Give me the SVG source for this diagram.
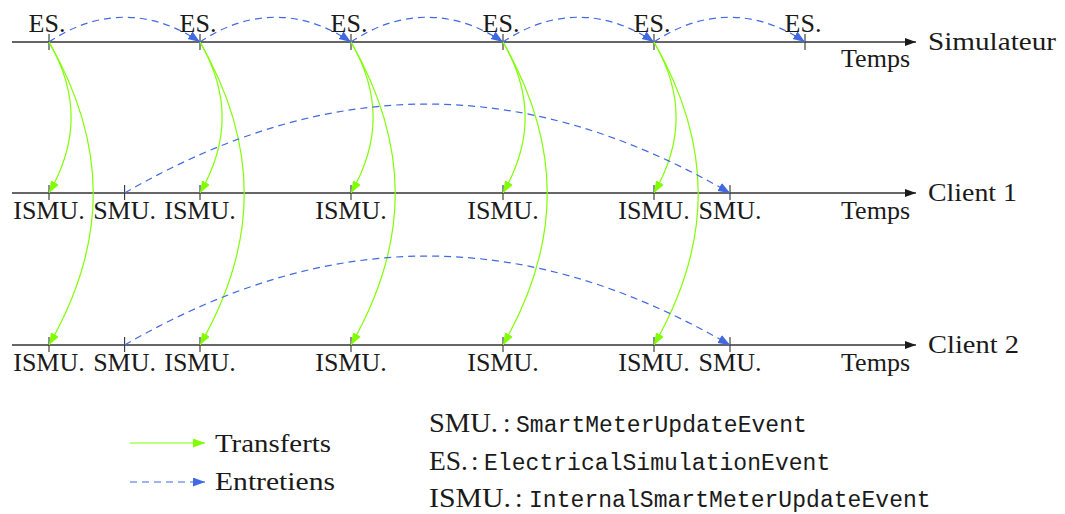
<svg xmlns="http://www.w3.org/2000/svg" width="1065" height="514" viewBox="0 0 1065 514">
<style>
.t{font-family:"Liberation Serif","Times New Roman",serif;font-size:26px;fill:#1a1a1a}
.l{font-size:27px}
.m{font-family:"Liberation Mono","DejaVu Sans Mono",monospace;font-size:23px;letter-spacing:0.05px;fill:#1a1a1a}
.mid{text-anchor:middle}
.end{text-anchor:end}
.axis{stroke:#333;stroke-width:1.4;fill:none}
.tick{stroke:#333;stroke-width:1.1}
.g{stroke:#7fff00;stroke-width:1.2;fill:none;marker-end:url(#ga)}
.b{stroke:#4169e1;stroke-width:1.2;fill:none;stroke-dasharray:7 5;marker-end:url(#ba)}
</style>
<defs>
<marker id="ga" markerUnits="userSpaceOnUse" markerWidth="14" markerHeight="12" refX="12" refY="4.5" orient="auto"><path d="M0,0 L12,4.5 L0,9 z" fill="#7fff00"/></marker>
<marker id="ba" markerUnits="userSpaceOnUse" markerWidth="14" markerHeight="12" refX="12" refY="4.5" orient="auto"><path d="M0,0 L12,4.5 L0,9 z" fill="#4169e1"/></marker>
<marker id="ka" markerUnits="userSpaceOnUse" markerWidth="14" markerHeight="12" refX="11" refY="4" orient="auto"><path d="M0,0 L11,4 L0,8 z" fill="#1a1a1a"/></marker>
</defs>

<g id="timeline-simulateur">
<path class="axis" d="M12,42 L916,42" marker-end="url(#ka)"/>
<path class="tick" d="M49,34 V50 M200,34 V50 M351,34 V50 M503,34 V50 M654,34 V50 M805,34 V50"/>
<text class="t mid" x="47" y="32">ES.</text>
<text class="t mid" x="198" y="32">ES.</text>
<text class="t mid" x="349" y="32">ES.</text>
<text class="t mid" x="501" y="32">ES.</text>
<text class="t mid" x="652" y="32">ES.</text>
<text class="t mid" x="803" y="32">ES.</text>
<text class="t end" x="910" y="67">Temps</text>
<text class="t" x="928" y="50" textLength="128" lengthAdjust="spacingAndGlyphs">Simulateur</text>
</g>

<g id="timeline-client1">
<path class="axis" d="M12,193 L916,193" marker-end="url(#ka)"/>
<path class="tick" d="M49,185 V200 M124.6,185 V200 M200,185 V200 M351,185 V200 M503,185 V200 M654,185 V200 M730,185 V200"/>
<text class="t mid" x="49" y="219">ISMU.</text>
<text class="t mid" x="124.6" y="219">SMU.</text>
<text class="t mid" x="200" y="219">ISMU.</text>
<text class="t mid" x="351" y="219">ISMU.</text>
<text class="t mid" x="503" y="219">ISMU.</text>
<text class="t mid" x="654" y="219">ISMU.</text>
<text class="t mid" x="730" y="219">SMU.</text>
<text class="t end" x="910" y="219">Temps</text>
<text class="t" x="928" y="201" textLength="89" lengthAdjust="spacingAndGlyphs">Client 1</text>
</g>

<g id="timeline-client2">
<path class="axis" d="M12,345 L916,345" marker-end="url(#ka)"/>
<path class="tick" d="M49,337 V352 M124.6,337 V352 M200,337 V352 M351,337 V352 M503,337 V352 M654,337 V352 M730,337 V352"/>
<text class="t mid" x="49" y="371">ISMU.</text>
<text class="t mid" x="124.6" y="371">SMU.</text>
<text class="t mid" x="200" y="371">ISMU.</text>
<text class="t mid" x="351" y="371">ISMU.</text>
<text class="t mid" x="503" y="371">ISMU.</text>
<text class="t mid" x="654" y="371">ISMU.</text>
<text class="t mid" x="730" y="371">SMU.</text>
<text class="t end" x="910" y="371">Temps</text>
<text class="t" x="928" y="353" textLength="91" lengthAdjust="spacingAndGlyphs">Client 2</text>
</g>

<g id="connectors">
<path class="b" d="M49,42 C98,9 151,9 200,42"/>
<path class="b" d="M200,42 C249,9 302,9 351,42"/>
<path class="b" d="M351,42 C400,9 454,9 503,42"/>
<path class="b" d="M503,42 C552,9 605,9 654,42"/>
<path class="b" d="M654,42 C703,9 756,9 805,42"/>

<path class="g" d="M49,42 C78.5,93 78.5,142 49,193"/>
<path class="g" d="M49,42 C108,145 108,242 49,345"/>
<path class="g" d="M200,42 C229.5,93 229.5,142 200,193"/>
<path class="g" d="M200,42 C259,145 259,242 200,345"/>
<path class="g" d="M351,42 C380.5,93 380.5,142 351,193"/>
<path class="g" d="M351,42 C410,145 410,242 351,345"/>
<path class="g" d="M503,42 C532.5,93 532.5,142 503,193"/>
<path class="g" d="M503,42 C562,145 562,242 503,345"/>
<path class="g" d="M654,42 C683.5,93 683.5,142 654,193"/>
<path class="g" d="M654,42 C713,145 713,242 654,345"/>

<path class="b" d="M124.6,193 C330,74.4 525,74.4 730,193"/>
<path class="b" d="M124.6,345 C330,226.4 525,226.4 730,345"/>
</g>

<g id="legend-arrows">
<path class="g" d="M130,443 L205,443"/>
<text class="t" x="215" y="452" textLength="116" lengthAdjust="spacingAndGlyphs">Transferts</text>
<path class="b" d="M130,482 L205,482"/>
<text class="t" x="215" y="490" textLength="120" lengthAdjust="spacingAndGlyphs">Entretiens</text>
</g>

<g id="legend-abbrev">
<text class="t l" x="429" y="432" textLength="69" lengthAdjust="spacingAndGlyphs">SMU.</text>
<text class="t l" x="503" y="432">:</text>
<text class="m" x="516" y="432">SmartMeterUpdateEvent</text>
<text class="t l" x="429" y="470" textLength="39" lengthAdjust="spacingAndGlyphs">ES.</text>
<text class="t l" x="471" y="470">:</text>
<text class="m" x="484" y="470">ElectricalSimulationEvent</text>
<text class="t l" x="429" y="507" textLength="82" lengthAdjust="spacingAndGlyphs">ISMU.</text>
<text class="t l" x="515" y="507">:</text>
<text class="m" x="529" y="507">InternalSmartMeterUpdateEvent</text>
</g>
</svg>
